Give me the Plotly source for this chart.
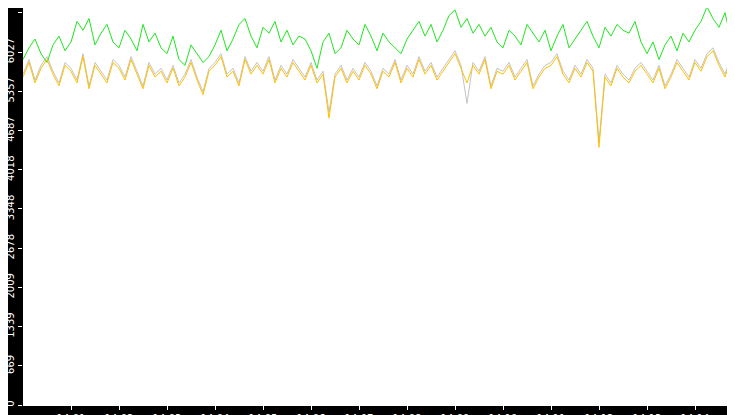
import pandas as pd
import plotly.graph_objects as go

# sampled every 7.5 s from 14:00:00
green = [5900, 6100, 6250, 6000, 5850, 6150, 6300, 6050,
         6200, 6550, 6400, 6600, 6150, 6350, 6500, 6200,
         6100, 6400, 6250, 6050, 6500, 6200, 6350, 6100,
         6000, 6300, 5900, 5800, 6150, 6000, 5850, 5950,
         6150, 6400, 6050, 6250, 6500, 6600, 6300, 6100,
         6450, 6350, 6550, 6200, 6400, 6150, 6300, 6250,
         6050, 5750, 6200, 6350, 6000, 6100, 6400, 6250,
         6150, 6500, 6300, 6050, 6350, 6200, 6100, 6000,
         6250, 6400, 6550, 6300, 6500, 6200, 6400, 6650,
         6750, 6450, 6600, 6350, 6500, 6300, 6450, 6200,
         6100, 6400, 6300, 6150, 6500, 6350, 6200, 6400,
         6050, 6300, 6500, 6100, 6250, 6400, 6550, 6300,
         6100, 6450, 6300, 6500, 6400, 6350, 6550, 6200,
         6000, 6200, 5900, 6150, 6300, 6050, 6350, 6200,
         6400, 6550, 6800, 6600, 6450, 6700, 6250, 6050, 2880]

orange = [5600, 5850, 5500, 5750, 5900, 5650, 5450, 5800,
          5700, 5500, 5950, 5400, 5800, 5650, 5500, 5850,
          5750, 5550, 5900, 5650, 5400, 5800, 5600, 5700,
          5500, 5750, 5450, 5600, 5850, 5550, 5300, 5700,
          5800, 5950, 5600, 5700, 5450, 5900, 5650, 5800,
          5650, 5900, 5500, 5750, 5600, 5850, 5700, 5550,
          5800, 5500, 5650, 4900, 5600, 5750, 5500, 5700,
          5550, 5800, 5650, 5400, 5700, 5600, 5850, 5500,
          5750, 5600, 5900, 5650, 5800, 5550, 5700, 5850,
          6000, 5750, 5500, 5800, 5650, 5900, 5400, 5700,
          5650, 5800, 5550, 5700, 5850, 5400, 5600, 5750,
          5800, 5950, 5650, 5500, 5750, 5600, 5850, 5700,
          4400, 5600, 5450, 5750, 5600, 5500, 5700, 5800,
          5650, 5500, 5750, 5400, 5600, 5850, 5700, 5550,
          5850, 5700, 5950, 6050, 5800, 5600, 5900, 5750, 0]

gray = [5650, 5900, 5550, 5800, 5950, 5700, 5500, 5850,
        5750, 5550, 6000, 5450, 5850, 5700, 5550, 5900,
        5800, 5600, 5950, 5700, 5450, 5850, 5650, 5750,
        5550, 5800, 5500, 5650, 5900, 5600, 5350, 5750,
        5850, 6000, 5650, 5750, 5500, 5950, 5700, 5850,
        5700, 5950, 5550, 5800, 5650, 5900, 5750, 5600,
        5850, 5550, 5700, 5000, 5650, 5800, 5550, 5750,
        5600, 5850, 5700, 5450, 5750, 5650, 5900, 5550,
        5800, 5650, 5950, 5700, 5850, 5600, 5750, 5900,
        6050, 5800, 5150, 5850, 5700, 5950, 5450, 5750,
        5700, 5850, 5600, 5750, 5900, 5450, 5650, 5800,
        5850, 6000, 5700, 5550, 5800, 5650, 5900, 5750,
        4500, 5650, 5500, 5800, 5650, 5550, 5750, 5850,
        5700, 5550, 5800, 5450, 5650, 5900, 5750, 5600,
        5900, 5750, 6000, 6100, 5850, 5650, 5950, 5350, 2700]

times = list(pd.date_range("2024-01-01 14:00:00", periods=120, freq="7500ms"))
times.append(pd.Timestamp("2024-01-01 14:14:59"))

xticks = list(pd.date_range("2024-01-01 14:01:00", periods=14, freq="1min"))
yticks = [0, 669, 1339, 2009, 2678, 3348, 4018, 4687, 5357, 6027, 6697]

fig = go.Figure()
fig.add_trace(go.Scatter(x=times, y=gray, mode="lines", line=dict(color="#b4b4b4", width=0.8)))
fig.add_trace(go.Scatter(x=times, y=green, mode="lines", line=dict(color="#1ee61e", width=1)))
fig.add_trace(go.Scatter(x=times, y=orange, mode="lines", line=dict(color="#ffc000", width=1)))

fig.update_layout(
    width=735, height=415,
    margin=dict(l=15, r=0, t=0, b=18),
    paper_bgcolor="black", plot_bgcolor="white",
    showlegend=False,
    font=dict(family="DejaVu Sans", size=10, color="white"),
)
fig.update_xaxes(
    range=[pd.Timestamp("2024-01-01 14:00:00"), pd.Timestamp("2024-01-01 14:15:00")],
    tickvals=xticks, tickformat="%H:%M", automargin=False,
    ticks="outside", ticklen=4, tickcolor="white",
    showgrid=False, showline=True, linecolor="white", zeroline=False,
)
fig.update_yaxes(
    range=[0, 6780], tickvals=yticks, tickangle=-90, automargin=False,
    ticks="outside", ticklen=4, tickcolor="white",
    showgrid=False, zeroline=False, showline=False,
)

fig.write_html("out.html")
